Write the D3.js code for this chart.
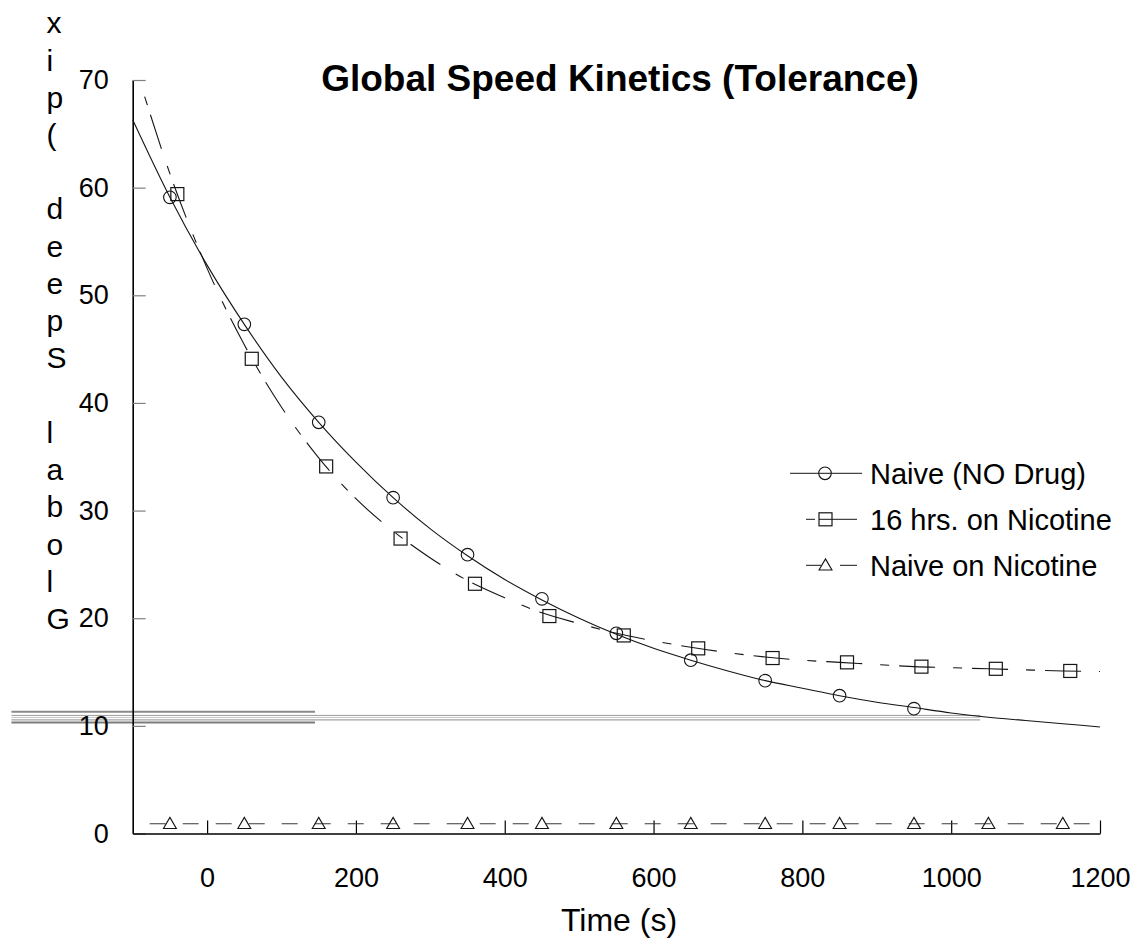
<!DOCTYPE html>
<html>
<head>
<meta charset="utf-8">
<script src="https://cdn.jsdelivr.net/npm/d3@7"></script>
<style>
  html, body { margin: 0; padding: 0; background: #fff; }
  svg { display: block; font-family: "Liberation Sans", Arial, sans-serif; }
</style>
</head>
<body>
<svg id="chart" width="1136" height="939"></svg>
<script>
// --- data ------------------------------------------------------------
var xTicks = [0, 200, 400, 600, 800, 1000, 1200];
var yTicks = [0, 10, 20, 30, 40, 50, 60, 70];

// Naive (NO Drug): measured points + fitted curve
var naiveT = [-50, 50, 150, 250, 350, 450, 550, 650, 750, 850, 950];
var naiveV = [59.1, 47.3, 38.2, 31.2, 25.9, 21.8, 18.6, 16.1, 14.2, 12.8, 11.6];
var naiveFitT = [-100, -50, 0, 50, 100, 150, 200, 250, 300, 350, 400, 450, 500, 550,
                 600, 650, 700, 750, 800, 850, 900, 950, 1000, 1050, 1100, 1150, 1200];
var naiveFitV = [66.3, 59.1, 52.8, 47.3, 42.4, 38.2, 34.5, 31.2, 28.3, 25.8, 23.6, 21.7, 20.0, 18.5,
                 17.2, 16.1, 15.1, 14.2, 13.5, 12.8, 12.2, 11.7, 11.2, 10.8, 10.5, 10.2, 9.9];

// 16 hrs. on Nicotine
var nic16T = [-40, 60, 160, 260, 360, 460, 560, 660, 760, 860, 960, 1060, 1160];
var nic16V = [59.4, 44.1, 34.1, 27.4, 23.2, 20.2, 18.4, 17.2, 16.3, 15.9, 15.5, 15.3, 15.1];
var nic16FitT = [-90, -50, 0, 50, 100, 150, 200, 250, 300, 350, 400, 450, 500, 550,
                 600, 650, 700, 750, 800, 850, 900, 950, 1000, 1050, 1100, 1150, 1200];
var nic16FitV = [69.8, 61.3, 52.5, 45.4, 39.6, 34.9, 31.1, 28.1, 25.6, 23.5, 21.9, 20.5, 19.5, 18.6,
                 17.9, 17.3, 16.8, 16.4, 16.1, 15.9, 15.7, 15.5, 15.4, 15.3, 15.2, 15.1, 15.05];

// Naive on Nicotine
var naiveNicT = [-50, 50, 150, 250, 350, 450, 550, 650, 750, 850, 950, 1050, 1150];
var naiveNicV = [0.9, 0.9, 0.9, 0.9, 0.9, 0.9, 0.9, 0.9, 0.9, 0.9, 0.9, 0.9, 0.9];
var naiveNicLineT = [-100, 1200];
var naiveNicLineV = [0.9, 0.9];

// stray grey rules around y = 10..11 in the original
var strayY  = [11.31, 10.97, 10.78, 10.56, 10.32];
var strayT0 = [-263, -263, -263, -263, -263];
var strayT1 = [145, 1039, 1039, 1039, 145];

var legendLabels = ["Naive (NO Drug)", "16 hrs. on Nicotine", "Naive on Nicotine"];
var titleText = "Global Speed Kinetics (Tolerance)";
var xTitle = "Time (s)";
var yTitle = "Global Speed (pix)";

// --- layout ------------------------------------------------------------
var svg = d3.select("#chart");
var x = d3.scaleLinear().domain([-100, 1200]).range([132.7, 1100]);
var y = d3.scaleLinear().domain([0, 70]).range([833.5, 80]);
var INK = "#151515";
var FONT = "'Liberation Sans', Arial, sans-serif";

// stray grey rules
var strayCol = ["#8a8a8a", "#9c9c9c", "#c6c6c6", "#a2a2a2", "#7c7c7c"];
var strayW = [2, 1, 1, 1.3, 2];
svg.append("g").selectAll("line").data(strayY).enter().append("line")
  .attr("x1", function (d, i) { return x(strayT0[i]); })
  .attr("x2", function (d, i) { return x(strayT1[i]); })
  .attr("y1", function (d) { return y(d); })
  .attr("y2", function (d) { return y(d); })
  .attr("stroke", function (d, i) { return strayCol[i]; })
  .attr("stroke-width", function (d, i) { return strayW[i]; });

// --- axes ----------------------------------------------------------------
var yAxis = svg.append("g").attr("transform", "translate(" + x(-100) + ",0)")
  .call(d3.axisLeft(y).tickValues(yTicks).tickFormat(d3.format("d"))
    .tickSizeInner(-13).tickSizeOuter(0).tickPadding(24));
yAxis.select(".domain").attr("stroke", "#000").attr("stroke-width", 1.6);
yAxis.selectAll(".tick line").attr("stroke", "#808080").attr("stroke-width", 1.2);
yAxis.selectAll(".tick text").attr("fill", "#000")
  .style("font-size", "27px").style("font-family", FONT);

var xAxis = svg.append("g").attr("transform", "translate(0," + y(0) + ")")
  .call(d3.axisBottom(x).tickValues(xTicks).tickFormat(d3.format("d"))
    .tickSizeInner(-13).tickSizeOuter(0).tickPadding(34));
xAxis.select(".domain").attr("stroke", "#000").attr("stroke-width", 1.4);
xAxis.selectAll(".tick line").attr("stroke", "#000").attr("stroke-width", 1.2);
xAxis.selectAll(".tick text").attr("fill", "#000")
  .style("font-size", "27px").style("font-family", FONT);

// axis titles
svg.append("text").attr("x", 619).attr("y", 931).attr("text-anchor", "middle")
  .style("font-size", "32px").attr("fill", "#000").text(xTitle);

// y title: one character per line, stacked bottom to top (the closing
// bracket falls above the page, as in the original, so it is left out)
var yChars = yTitle.split("").map(function (c, i) { return { c: c, y: 629 - i * 37.23 }; })
  .filter(function (d) { return d.y > 20; });
svg.append("g").selectAll("text").data(yChars).enter().append("text")
  .attr("x", 46.5)
  .attr("y", function (d) { return d.y; })
  .style("font-size", "30px").attr("fill", "#000")
  .text(function (d) { return d.c; });

// title
svg.append("text").attr("x", 620).attr("y", 91).attr("text-anchor", "middle")
  .style("font-size", "37px").style("font-weight", "bold").attr("fill", "#000")
  .text(titleText);

// --- curves --------------------------------------------------------------
function pts(T, V) { return T.map(function (t, i) { return [t, V[i]]; }); }
var line = d3.line().x(function (d) { return x(d[0]); }).y(function (d) { return y(d[1]); })
  .curve(d3.curveMonotoneX);

svg.append("path").datum(pts(naiveFitT, naiveFitV)).attr("d", line)
  .attr("fill", "none").attr("stroke", INK).attr("stroke-width", 1.1);
svg.append("path").datum(pts(nic16FitT, nic16FitV)).attr("d", line)
  .attr("fill", "none").attr("stroke", INK).attr("stroke-width", 1.1)
  .attr("stroke-dasharray", "36 18 9 10").attr("stroke-dashoffset", 39);
svg.append("path").datum(pts(naiveNicLineT, naiveNicLineV)).attr("d", line)
  .attr("fill", "none").attr("stroke", "#3a3a3a").attr("stroke-width", 1.1)
  .attr("stroke-dasharray", "16 17").attr("stroke-dashoffset", -17);

// --- markers -------------------------------------------------------------
var tri = d3.symbol().type(d3.symbolTriangle).size(72);
svg.append("g").selectAll("circle").data(pts(naiveT, naiveV)).enter().append("circle")
  .attr("cx", function (d) { return x(d[0]); }).attr("cy", function (d) { return y(d[1]); })
  .attr("r", 6.3).attr("fill", "none").attr("stroke", INK).attr("stroke-width", 1.1);
svg.append("g").selectAll("rect").data(pts(nic16T, nic16V)).enter().append("rect")
  .attr("x", function (d) { return x(d[0]) - 6.5; }).attr("y", function (d) { return y(d[1]) - 6.5; })
  .attr("width", 13).attr("height", 13)
  .attr("fill", "none").attr("stroke", INK).attr("stroke-width", 1.2);
svg.append("g").selectAll("path").data(pts(naiveNicT, naiveNicV)).enter().append("path")
  .attr("d", tri)
  .attr("transform", function (d) { return "translate(" + x(d[0]) + "," + (y(d[1]) + 1) + ")"; })
  .attr("fill", "none").attr("stroke", INK).attr("stroke-width", 1.1);

// --- legend --------------------------------------------------------------
var lg = svg.append("g");
var rowY = [473.3, 519.3, 565.3];
var rowX0 = [790, 806, 806], rowX1 = [862, 857, 857];
var rowDash = [null, "9 4 60", "15 19 17"];
var rows = lg.selectAll("g").data(legendLabels).enter().append("g");
rows.append("line")
  .attr("x1", function (d, i) { return rowX0[i]; }).attr("x2", function (d, i) { return rowX1[i]; })
  .attr("y1", function (d, i) { return rowY[i]; }).attr("y2", function (d, i) { return rowY[i]; })
  .attr("stroke", "#444").attr("stroke-width", 1.2)
  .attr("stroke-dasharray", function (d, i) { return rowDash[i]; });
rows.append("text")
  .attr("x", 870).attr("y", function (d, i) { return rowY[i] + 10.3; })
  .style("font-size", "29px").attr("fill", "#000")
  .text(function (d) { return d; });
lg.append("circle").attr("cx", 825).attr("cy", rowY[0]).attr("r", 6.3)
  .attr("fill", "none").attr("stroke", INK).attr("stroke-width", 1.1);
lg.append("rect").attr("x", 819).attr("y", rowY[1] - 6.5).attr("width", 13).attr("height", 13)
  .attr("fill", "none").attr("stroke", INK).attr("stroke-width", 1.2);
lg.append("path").attr("d", tri)
  .attr("transform", "translate(825.5," + (rowY[2] + 1) + ")")
  .attr("fill", "none").attr("stroke", INK).attr("stroke-width", 1.1);
</script>
</body>
</html>
